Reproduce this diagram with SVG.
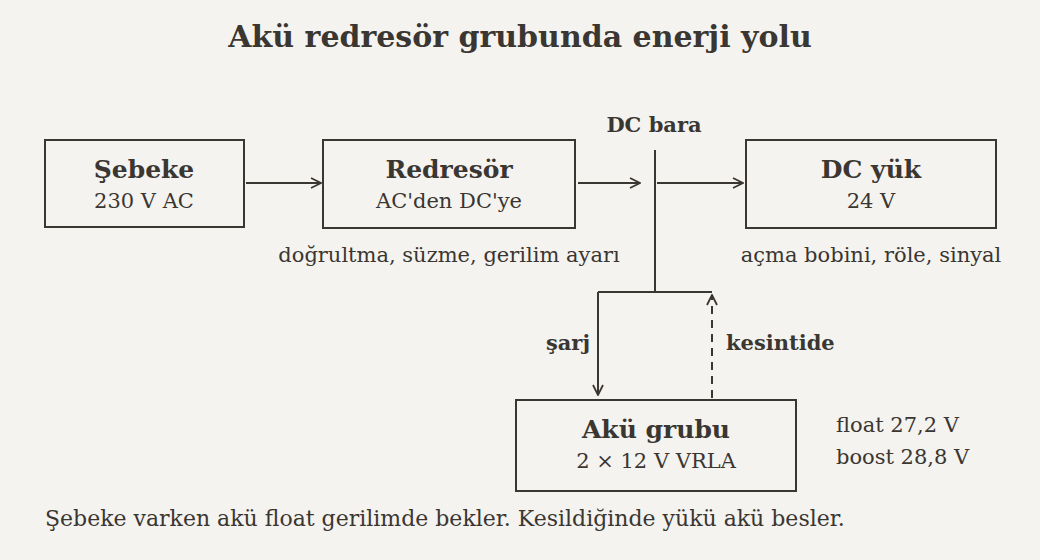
<svg xmlns="http://www.w3.org/2000/svg" width="1040" height="560" viewBox="0 0 1040 560">
<style>
text{font-family:"DejaVu Serif","Liberation Serif",serif;fill:#3a3632}
.t{font-size:30px;font-weight:bold}
.h{font-size:25px;font-weight:bold}
.s{font-size:21px}
.f{font-size:22px}
.l{font-size:21px;font-weight:bold}
.box{fill:#f5f3ef;stroke:#3a3632;stroke-width:2}
.ln{stroke:#3a3632;stroke-width:2;fill:none}
</style>
<defs><marker id="a" viewBox="0 0 12 12" refX="11" refY="6" markerWidth="12" markerHeight="12" markerUnits="userSpaceOnUse" orient="auto"><path d="M1 1L11 6L1 11" fill="none" stroke="#3a3632" stroke-width="1.8"/></marker></defs>
<rect width="1040" height="560" fill="#f5f3ef"/>
<text class="t" x="520" y="47" text-anchor="middle">Akü redresör grubunda enerji yolu</text>
<g id="sebeke"><rect class="box" x="45" y="140" width="199" height="87"/><text class="h" x="144" y="178" text-anchor="middle">Şebeke</text><text class="s" x="144" y="208" text-anchor="middle">230 V AC</text></g>
<g id="redresor"><rect class="box" x="323" y="140" width="252" height="88"/><text class="h" x="449" y="178" text-anchor="middle">Redresör</text><text class="s" x="449" y="208" text-anchor="middle">AC'den DC'ye</text><text class="s" x="449" y="262" text-anchor="middle">doğrultma, süzme, gerilim ayarı</text></g>
<g id="dcyuk"><rect class="box" x="746" y="140" width="250" height="88"/><text class="h" x="871" y="178" text-anchor="middle">DC yük</text><text class="s" x="871" y="208" text-anchor="middle">24 V</text><text class="s" x="871" y="262" text-anchor="middle">açma bobini, röle, sinyal</text></g>
<g id="aku"><rect class="box" x="516" y="400" width="280" height="91"/><text class="h" x="656" y="438" text-anchor="middle">Akü grubu</text><text class="s" x="656" y="468" text-anchor="middle">2 × 12 V VRLA</text><text class="s" x="836" y="432">float 27,2 V</text><text class="s" x="836" y="464">boost 28,8 V</text></g>
<g id="bus"><text class="l" x="654" y="132" text-anchor="middle">DC bara</text><line class="ln" x1="655" y1="150" x2="655" y2="292"/><line class="ln" x1="598" y1="292" x2="712" y2="292"/></g>
<g id="connectors">
<line class="ln" x1="246" y1="183" x2="321" y2="183" marker-end="url(#a)"/>
<line class="ln" x1="578" y1="183" x2="640" y2="183" marker-end="url(#a)"/>
<line class="ln" x1="657" y1="183" x2="743" y2="183" marker-end="url(#a)"/>
<line class="ln" x1="598" y1="292" x2="598" y2="395" marker-end="url(#a)"/>
<line class="ln" x1="712" y1="398" x2="712" y2="295" stroke-dasharray="8 6" marker-end="url(#a)"/>
<text class="l" x="590" y="350" text-anchor="end">şarj</text>
<text class="l" x="726" y="350">kesintide</text>
</g>
<text class="f" x="45" y="526">Şebeke varken akü float gerilimde bekler. Kesildiğinde yükü akü besler.</text>
</svg>
